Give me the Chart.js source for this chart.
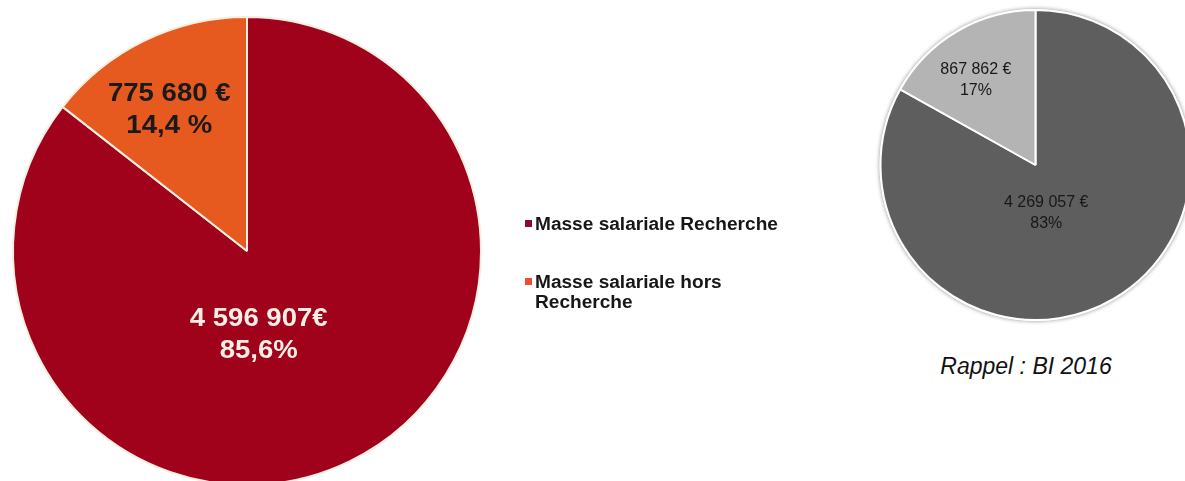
<!DOCTYPE html>
<html lang="fr">
<head>
<meta charset="utf-8">
<title>Masse salariale</title>
<script src="https://cdn.jsdelivr.net/npm/chart.js@4/dist/chart.umd.min.js"></script>
<style>
  html, body { margin: 0; padding: 0; background: #ffffff; width: 1185px; height: 481px; overflow: hidden; }
  #main { position: absolute; left: 0; top: 0; }
  #rappel { position: absolute; left: 860px; top: 0; }
  #caption {
    position: absolute; left: 926px; top: 353px; width: 200px; text-align: center;
    font: italic 23px "Liberation Sans", Arial, sans-serif; color: #111;
  }
</style>
</head>
<body>
<canvas id="main" width="840" height="510"></canvas>
<canvas id="rappel" width="340" height="330"></canvas>
<div id="caption">Rappel : BI 2016</div>
<script>
// Budget 2017 : masse salariale
const categories = ['Masse salariale Recherche', 'Masse salariale hors Recherche'];
const budget2017 = [4596907, 775680];
const budget2017Labels = [['4 596 907€', '85,6%'], ['775 680 €', '14,4 %']];

// Rappel BI 2016
const budget2016 = [4269057, 867862];
const budget2016Labels = [['4 269 057 €', '83%'], ['867 862 €', '17%']];
const legendLines = [['Masse salariale Recherche'], ['Masse salariale hors', 'Recherche']];

// Writes the value / percentage text inside each slice, placed along
// a ray from the pie centre (fraction of radius, angular shift from bisector).
const sliceLabels = {
  id: 'sliceLabels',
  afterDatasetsDraw(chart, args, opts) {
    const ctx = chart.ctx;
    const meta = chart.getDatasetMeta(0);
    meta.data.forEach((arc, i) => {
      const p = arc.getProps(['x', 'y', 'startAngle', 'endAngle', 'outerRadius'], true);
      const place = opts.place[i];
      const a = (p.startAngle + p.endAngle) / 2 + place.shift * Math.PI / 180;
      const r = p.outerRadius * place.r;
      const cx = p.x + Math.cos(a) * r;
      const cy = p.y + Math.sin(a) * r;
      const lines = opts.text[i];
      ctx.save();
      ctx.font = opts.font;
      ctx.fillStyle = opts.colors[i];
      ctx.textAlign = 'center';
      ctx.textBaseline = 'middle';
      lines.forEach((t, k) => {
        const y = cy + (k - (lines.length - 1) / 2) * opts.lineHeight;
        ctx.save();
        ctx.translate(cx, y);
        ctx.scale(opts.stretch, 1);
        ctx.fillText(t, 0, 0);
        ctx.restore();
      });
      ctx.restore();
    });
  }
};

// Legend to the right of the main pie, with wrapped second entry.
const sideLegend = {
  id: 'sideLegend',
  afterDraw(chart, args, opts) {
    const ctx = chart.ctx;
    ctx.save();
    ctx.font = opts.font;
    ctx.textBaseline = 'alphabetic';
    ctx.textAlign = 'left';
    let y = opts.top;
    opts.lines.forEach((lines, i) => {
      ctx.fillStyle = opts.markers[i];
      ctx.fillRect(opts.left, y - 10, 7, 7);
      ctx.fillStyle = '#161616';
      lines.forEach((t, k) => {
        ctx.save();
        ctx.translate(opts.left + 10, y + k * opts.lineHeight);
        ctx.scale(opts.stretch, 1);
        ctx.fillText(t, 0, 0);
        ctx.restore();
      });
      y += opts.gap;
    });
    ctx.restore();
  }
};

// Soft grey halo behind the 2016 pie.
const pieHalo = {
  id: 'pieHalo',
  beforeDatasetsDraw(chart) {
    const arc = chart.getDatasetMeta(0).data[0];
    const p = arc.getProps(['x', 'y', 'outerRadius'], true);
    const ctx = chart.ctx;
    ctx.save();
    ctx.beginPath();
    ctx.arc(p.x, p.y, p.outerRadius + 1, 0, Math.PI * 2);
    ctx.fillStyle = '#ffffff';
    ctx.shadowColor = 'rgba(0,0,0,0.45)';
    ctx.shadowBlur = 4;
    ctx.fill();
    ctx.restore();
  }
};

new Chart(document.getElementById('main'), {
  type: 'pie',
  data: {
    labels: categories,
    datasets: [{
      data: budget2017,
      backgroundColor: ['#a0011b', '#e65a1f'],
      borderColor: '#f7efe2',
      borderWidth: 2
    }]
  },
  options: {
    responsive: false,
    animation: false,
    events: [],
    layout: { padding: { left: 12, top: 16, right: 358, bottom: 24 } },
    plugins: {
      legend: { display: false },
      tooltip: { enabled: false },
      sliceLabels: {
        text: budget2017Labels,
        colors: ['#f6efe6', '#1a1a1a'],
        font: 'bold 26px "Liberation Sans", Arial, sans-serif',
        lineHeight: 32,
        stretch: 1.06,
        place: [{ r: 0.36, shift: 18 }, { r: 0.69, shift: -2.8 }]
      },
      sideLegend: {
        lines: legendLines,
        markers: ['#8c0a30', '#ea4f34'],
        font: 'bold 18px "Liberation Sans", Arial, sans-serif',
        left: 525, top: 230, gap: 58, lineHeight: 20, stretch: 1.06
      }
    }
  },
  plugins: [sliceLabels, sideLegend]
});

new Chart(document.getElementById('rappel'), {
  type: 'pie',
  data: {
    labels: categories,
    datasets: [{
      data: budget2016,
      backgroundColor: ['#5e5e5e', '#b4b4b4'],
      borderColor: '#ffffff',
      borderWidth: 2
    }]
  },
  options: {
    responsive: false,
    animation: false,
    events: [],
    layout: { padding: { left: 19, top: 9, right: 8, bottom: 9 } },
    plugins: {
      legend: { display: false },
      tooltip: { enabled: false },
      sliceLabels: {
        text: budget2016Labels,
        colors: ['#181818', '#181818'],
        font: '16px "Liberation Sans", Arial, sans-serif',
        lineHeight: 21,
        stretch: 1,
        place: [{ r: 0.32, shift: 17.9 }, { r: 0.67, shift: -4.6 }]
      }
    }
  },
  plugins: [pieHalo, sliceLabels]
});
</script>
</body>
</html>
